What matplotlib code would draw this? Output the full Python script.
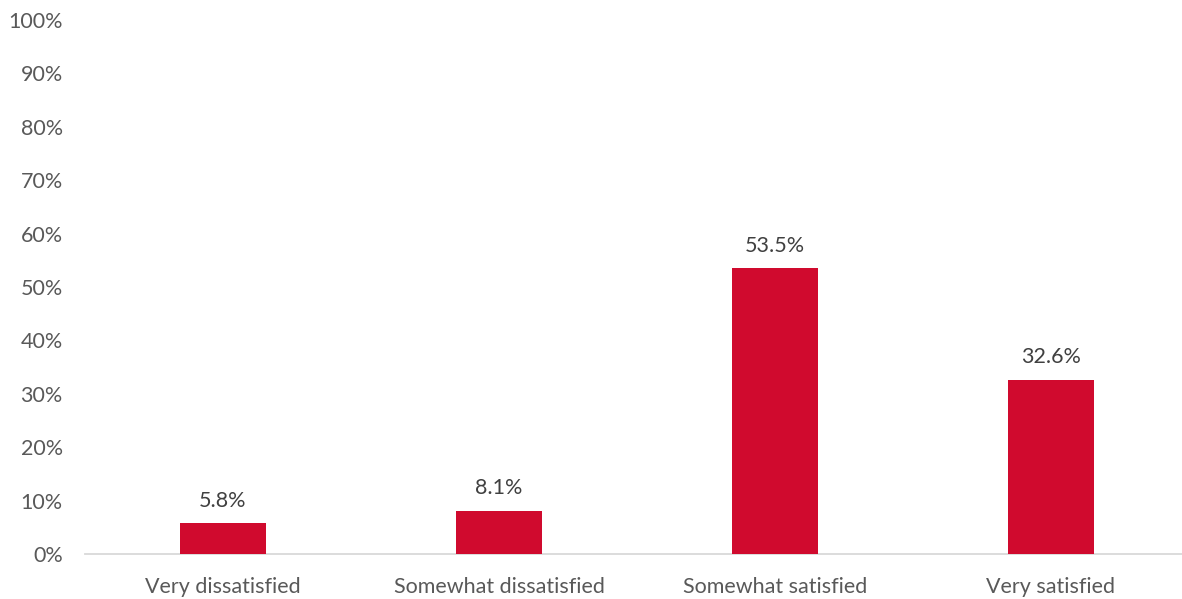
import matplotlib.pyplot as plt
from matplotlib.ticker import PercentFormatter

categories = ['Very dissatisfied', 'Somewhat dissatisfied', 'Somewhat satisfied', 'Very satisfied']
values = [5.8, 8.1, 53.5, 32.6]

plt.rcParams['font.family'] = ['Lato', 'DejaVu Sans']

fig = plt.figure(figsize=(11.82, 5.99), dpi=100)
ax = fig.add_axes([85 / 1182, 45 / 599, 1104 / 1182, 534 / 599])

x = list(range(len(categories)))
bars = ax.bar(x, values, width=0.315, color='#D00A2E', zorder=3)

for rect, v in zip(bars, values):
    ax.annotate('%.1f%%' % v, xy=(rect.get_x() + rect.get_width() / 2, rect.get_height()),
                xytext=(0, 9), textcoords='offset points',
                ha='center', va='bottom', fontsize=15.5, color='#404040')

ax.set_xlim(-0.5, 3.5)
ax.set_ylim(0, 100)
ax.set_yticks(range(0, 101, 10))
ax.yaxis.set_major_formatter(PercentFormatter(decimals=0))
ax.set_xticks(x)
ax.set_xticklabels(categories)

for s in ['top', 'right', 'left']:
    ax.spines[s].set_visible(False)
ax.spines['bottom'].set_color('#D9D9D9')
ax.spines['bottom'].set_linewidth(1.3)
ax.tick_params(axis='both', length=0, labelsize=15.5, colors='#595959')
ax.tick_params(axis='y', pad=16)
ax.tick_params(axis='x', pad=16.5)

plt.savefig('out.png', dpi=100)
